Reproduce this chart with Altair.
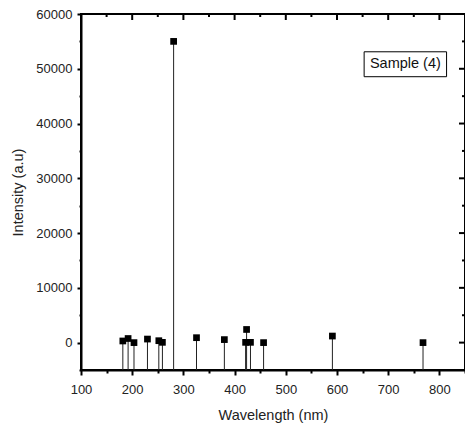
import altair as alt
import pandas as pd

# ---- data ----
wavelength = [181.7, 192.0, 203.5, 229.8, 252.0, 259.0, 280.9, 325.6, 380.0,
              421.5, 423.4, 431.0, 456.6, 591.0, 768.0]
intensity = [300, 750, 0, 650, 350, 50, 55000, 900, 550,
             50, 2400, 50, 0, 1200, 0]
baseline = -5000

x_major = [100, 200, 300, 400, 500, 600, 700, 800]
x_minor = [150, 250, 350, 450, 550, 650, 750, 850]
y_major = [0, 10000, 20000, 30000, 40000, 50000, 60000]
y_minor = [-5000, 5000, 15000, 25000, 35000, 45000, 55000]

label_text = ["Sample (4)"]
label_box_x = [653, 814]
label_box_y = [53100, 48550]

FONT = "Liberation Sans"
W, H = 384, 356

df = pd.DataFrame({"wl": wavelength, "I": intensity,
                   "base": [baseline] * len(wavelength)})

xscale = alt.Scale(domain=[100, 850], nice=False, zero=False)
yscale = alt.Scale(domain=[-5000, 60000], nice=False, zero=False)

xaxis = alt.Axis(
    values=sorted(x_major + x_minor),
    labelExpr="datum.value % 100 === 0 ? datum.label : ''",
    format="d", labelFlush=False,
    tickSize={"condition": {"test": "datum.value % 100 === 0", "value": 5}, "value": 3},
    tickWidth=2, tickColor="black",
    domainColor="black", domainWidth=2,
    labelFont=FONT, labelFontSize=13, labelColor="#222", labelPadding=8,
    title="Wavelength (nm)", titleFont=FONT, titleFontSize=14.5,
    titleFontWeight="normal", titleColor="#222", titlePadding=12,
    grid=False,
)
yaxis = alt.Axis(
    values=sorted(y_major + y_minor),
    labelExpr="datum.value % 10000 === 0 ? datum.label : ''",
    format="d", labelFlush=False,
    tickSize={"condition": {"test": "datum.value % 10000 === 0", "value": 4}, "value": 2},
    tickWidth=2, tickColor="black",
    domainColor="black", domainWidth=2,
    labelFont=FONT, labelFontSize=13, labelColor="#222", labelPadding=5,
    title="Intensity (a.u)", titleFont=FONT, titleFontSize=14.5,
    titleFontWeight="normal", titleColor="#222", titlePadding=10,
    grid=False,
)

stems = alt.Chart(df).mark_rule(color="#222", strokeWidth=1).encode(
    x=alt.X("wl:Q", scale=xscale, axis=xaxis),
    y=alt.Y("I:Q", scale=yscale, axis=yaxis),
    y2="base:Q",
)

points = alt.Chart(df).mark_square(size=45, color="black", opacity=1).encode(
    x=alt.X("wl:Q", scale=xscale, axis=xaxis),
    y=alt.Y("I:Q", scale=yscale, axis=yaxis),
)

# inward ticks on the top and right frame
top_major = alt.Chart(pd.DataFrame({"wl": x_major[1:]})).mark_rule(
    color="black", strokeWidth=2).encode(
    x=alt.X("wl:Q", scale=xscale, axis=xaxis), y=alt.value(0), y2=alt.value(6))
top_minor = alt.Chart(pd.DataFrame({"wl": x_minor[:-1]})).mark_rule(
    color="black", strokeWidth=2).encode(
    x=alt.X("wl:Q", scale=xscale, axis=xaxis), y=alt.value(0), y2=alt.value(3))
right_major = alt.Chart(pd.DataFrame({"I": y_major[:-1]})).mark_rule(
    color="black", strokeWidth=2).encode(
    y=alt.Y("I:Q", scale=yscale, axis=yaxis), x=alt.value(W), x2=alt.value(W - 6))
right_minor = alt.Chart(pd.DataFrame({"I": y_minor[1:]})).mark_rule(
    color="black", strokeWidth=2).encode(
    y=alt.Y("I:Q", scale=yscale, axis=yaxis), x=alt.value(W), x2=alt.value(W - 3))

box_df = pd.DataFrame({"wl": [label_box_x[0]], "x2": [label_box_x[1]],
                       "I": [label_box_y[0]], "y2": [label_box_y[1]],
                       "t": label_text})
text_df = pd.DataFrame({"wl": [(label_box_x[0] + label_box_x[1]) / 2],
                        "I": [(label_box_y[0] + label_box_y[1]) / 2],
                        "t": label_text})
box = alt.Chart(box_df).mark_rect(fill="white", stroke="black", strokeWidth=1).encode(
    x=alt.X("wl:Q", scale=xscale, axis=xaxis), x2="x2:Q",
    y=alt.Y("I:Q", scale=yscale, axis=yaxis), y2="y2:Q")
box_text = alt.Chart(text_df).mark_text(font=FONT, fontSize=14.5, color="#111").encode(
    x=alt.X("wl:Q", scale=xscale, axis=xaxis),
    y=alt.Y("I:Q", scale=yscale, axis=yaxis),
    text="t:N")

chart = alt.layer(stems, points, top_major, top_minor, right_major, right_minor,
                  box, box_text).properties(
    width=W, height=H,
    background="white",
    autosize=alt.AutoSizeParams(type="none"),
    padding={"left": 73, "top": 6, "right": 0, "bottom": 57},
).configure_view(stroke="black", strokeWidth=2)

chart.save("out.html", embed_options={"renderer": "svg", "actions": False})
